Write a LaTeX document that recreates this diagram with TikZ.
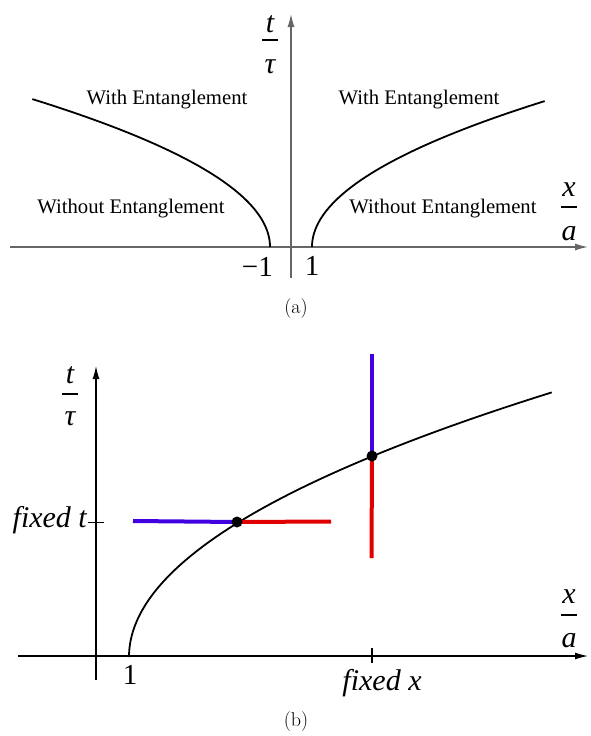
\documentclass[tikz,border=0pt]{standalone}
\usepackage{fontspec}
\newfontfamily\tnr{Liberation Serif}
\usetikzlibrary{arrows.meta}
\definecolor{myblue}{RGB}{64,0,224}
\definecolor{myred}{RGB}{224,0,0}
\begin{document}
\begin{tikzpicture}[x=1pt,y=-1pt,
  axisA/.style={draw=black!60, line width=1.3pt, -{Latex[length=13pt,width=7pt]}},
  axisB/.style={draw=black, line width=1.2pt, -{Latex[length=13pt,width=7pt]}},
  plainB/.style={draw=black, line width=1.2pt},
  curve/.style={draw=black, line width=1.8pt},
  txt/.style={font=\tnr\fontsize{20.7}{24}\selectfont, inner sep=0pt, anchor=base},
  mth/.style={font=\tnr\itshape\fontsize{30}{34}\selectfont, inner sep=0pt, anchor=base},
  num/.style={font=\tnr\fontsize{29}{32}\selectfont, inner sep=0pt, anchor=base},
  captext/.style={font=\fontsize{20}{24}\selectfont, inner sep=0pt},
  fbar/.style={draw=black, line width=1.4pt},
  blueline/.style={draw=myblue, line width=4pt},
  redline/.style={draw=myred, line width=4pt},
  dotnode/.style={circle, fill=black, inner sep=0pt, minimum size=11pt}
]
\useasboundingbox (0,0) rectangle (590,736);

% ---------------- panel (a) ----------------
\coordinate (axL) at (10,247);
\coordinate (axR) at (588,247);
\coordinate (ayB) at (291,278);
\coordinate (ayT) at (291,14);
\draw[axisA] (axL) -- (axR);
\draw[axisA] (ayB) -- (ayT);

\draw[curve] plot[domain=0:1, samples=80, variable=\s] ({270-238*\s*\s}, {247-148*\s});
\draw[curve] plot[domain=0:1, samples=80, variable=\s] ({312+233*\s*\s}, {247-146*\s});

\node[txt] (wl) at (167,104) {With Entanglement};
\node[txt] (wr) at (419,104) {With Entanglement};
\node[txt] (wol) at (131,213) {Without Entanglement};
\node[txt] (wor) at (443,213) {Without Entanglement};

\node[num, anchor=base east] (m1) at (273,276) {−1};
\node[num] (p1a) at (312,275) {1};

% t/tau (a)
\node[mth] (ta) at (270,32) {t};
\coordinate (tabL) at (262,40);
\coordinate (tabR) at (278,40);
\draw[fbar] (tabL) -- (tabR);
\node[mth] (taua) at (270,73) {τ};
% x/a (a)
\node[mth] (xa) at (569,196) {x};
\coordinate (xabL) at (561,207);
\coordinate (xabR) at (577,207);
\draw[fbar] (xabL) -- (xabR);
\node[mth] (aa) at (569,240) {a};

\node[captext] (capa) at (296,309) {(a)};

% ---------------- panel (b) ----------------
\coordinate (bxL) at (18,656);
\coordinate (bxR) at (588,656);
\coordinate (byB) at (96,680);
\coordinate (byT) at (96,366);
\draw[axisB] (bxL) -- (bxR);
\draw[axisB] (byB) -- (byT);

% ticks
\coordinate (tt1) at (88,522.5);
\coordinate (tt2) at (104,522.5);
\draw[plainB] (tt1) -- (tt2);
\coordinate (tx1) at (372,648);
\coordinate (tx2) at (372,663);
\draw[plainB] (tx1) -- (tx2);

\draw[curve] plot[domain=0:1, samples=100, variable=\s] ({129+424*\s*\s}, {657-265*\s});

\coordinate (d1) at (237,522);
\coordinate (d2) at (372,456);
\coordinate (hb) at (133,521);
\coordinate (hr) at (331,521.5);
\coordinate (vb) at (372,354);
\coordinate (vr) at (371.5,558);
\draw[blueline] (hb) -- (d1);
\draw[redline] (d1) -- (hr);
\draw[blueline] (vb) -- (d2);
\draw[redline] (d2) -- (vr);
\node[dotnode] (dot1) at (d1) {};
\node[dotnode] (dot2) at (d2) {};

\node[mth, anchor=base east] (fixt) at (87,527) {fixed t};
\node[mth] (fixx) at (382,690) {fixed x};
\node[num] (p1b) at (130,684) {1};

% t/tau (b)
\node[mth] (tb) at (70,383) {t};
\coordinate (tbbL) at (62,394);
\coordinate (tbbR) at (78,394);
\draw[fbar] (tbbL) -- (tbbR);
\node[mth] (taub) at (70,425) {τ};
% x/a (b)
\node[mth] (xb) at (569,603) {x};
\coordinate (xbbL) at (561,615);
\coordinate (xbbR) at (577,615);
\draw[fbar] (xbbL) -- (xbbR);
\node[mth] (ab) at (569,647) {a};

\node[captext] (capb) at (296,722) {(b)};
\end{tikzpicture}
\end{document}
